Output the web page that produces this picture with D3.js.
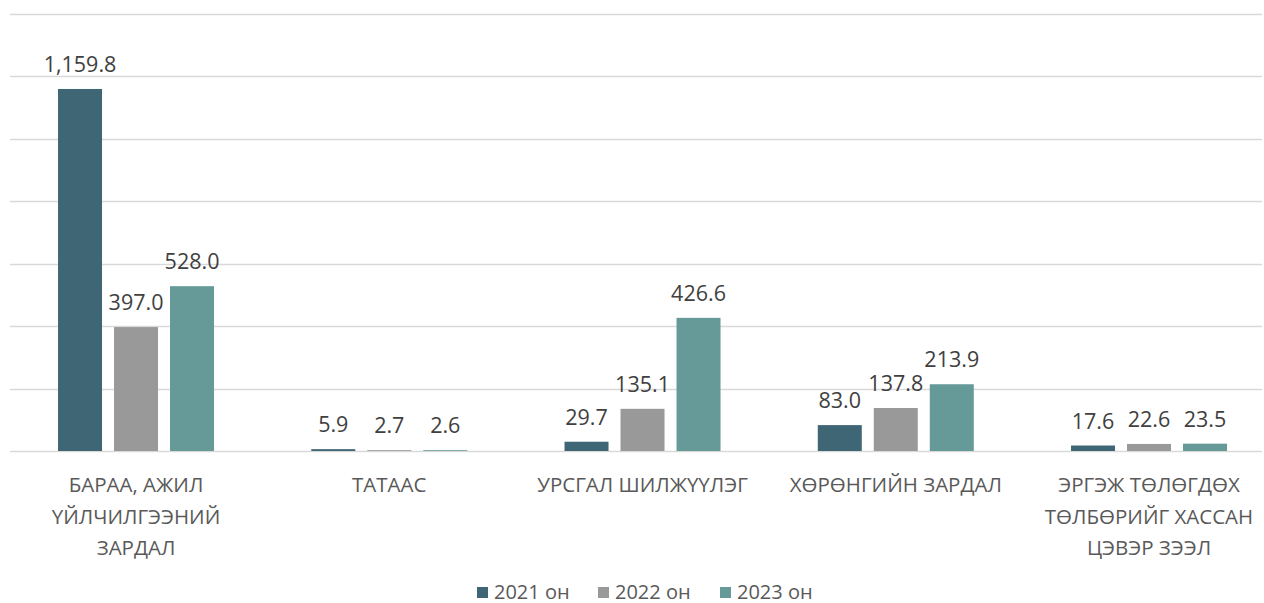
<!DOCTYPE html>
<html>
<head>
<meta charset="utf-8">
<script src="https://cdn.jsdelivr.net/npm/d3@7"></script>
<style>
  body { margin: 0; background: #fff; }
  svg text { font-family: "Open Sans", "Noto Sans", sans-serif; }
</style>
</head>
<body>
<div id="chart"></div>
<script>
var categories = [
  ['БАРАА, АЖИЛ', 'ҮЙЛЧИЛГЭЭНИЙ', 'ЗАРДАЛ'],
  ['ТАТААС'],
  ['УРСГАЛ ШИЛЖҮҮЛЭГ'],
  ['ХӨРӨНГИЙН ЗАРДАЛ'],
  ['ЭРГЭЖ ТӨЛӨГДӨХ', 'ТӨЛБӨРИЙГ ХАССАН', 'ЦЭВЭР ЗЭЭЛ']
];
var seriesNames = ['2021 он', '2022 он', '2023 он'];
var values2021 = [1159.8, 5.9, 29.7, 83.0, 17.6];
var values2022 = [397.0, 2.7, 135.1, 137.8, 22.6];
var values2023 = [528.0, 2.6, 426.6, 213.9, 23.5];
var colors = ['#3f6674', '#999999', '#659a99'];
var yTicks = [0, 200, 400, 600, 800, 1000, 1200, 1400];

var W = 1264, H = 603,
    GRID_LEFT = 10, GRID_RIGHT = 1262,
    BAND_LEFT = 9.4, BAND_STEP = 253.25,
    PLOT_TOP = 14, PLOT_BOTTOM = 451,
    BAR_W = 44, BAR_STEP = 56;

var series = [values2021, values2022, values2023];

var svg = d3.select('#chart').append('svg')
  .attr('width', W).attr('height', H);

var x = d3.scaleBand()
  .domain(d3.range(categories.length))
  .range([BAND_LEFT, BAND_LEFT + BAND_STEP * categories.length]);

var y = d3.scaleLinear().domain([0, 1400]).range([PLOT_BOTTOM, PLOT_TOP]);

// gridlines
svg.selectAll('line.grid')
  .data(yTicks)
  .enter().append('line')
  .attr('class', 'grid')
  .attr('x1', GRID_LEFT).attr('x2', GRID_RIGHT)
  .attr('y1', function(d) { return Math.round(y(d)) + 0.5; })
  .attr('y2', function(d) { return Math.round(y(d)) + 0.5; })
  .attr('stroke', '#d9d9d9')
  .attr('stroke-width', 1.5);

// bars + value labels
series.forEach(function(vals, s) {
  var g = svg.append('g');
  var cx = function(i) { return x(i) + x.bandwidth() / 2 + (s - 1) * BAR_STEP; };
  g.selectAll('rect')
    .data(vals)
    .enter().append('rect')
    .attr('x', function(d, i) { return cx(i) - BAR_W / 2; })
    .attr('y', function(d) { return y(d); })
    .attr('width', BAR_W)
    .attr('height', function(d) { return PLOT_BOTTOM - y(d); })
    .attr('fill', colors[s]);
  g.selectAll('text')
    .data(vals)
    .enter().append('text')
    .attr('x', function(d, i) { return cx(i); })
    .attr('y', function(d) { return y(d) - 17; })
    .attr('text-anchor', 'middle')
    .attr('font-size', 21.5)
    .attr('fill', '#404040')
    .text(function(d) { return d3.format(',.1f')(d); });
});

// category labels
var cat = svg.selectAll('text.cat')
  .data(categories)
  .enter().append('text')
  .attr('class', 'cat')
  .attr('text-anchor', 'middle')
  .attr('font-size', 20.5)
  .attr('fill', '#595959');
cat.each(function(lines, i) {
  var t = d3.select(this);
  lines.forEach(function(line, j) {
    t.append('tspan')
      .attr('x', x(i) + x.bandwidth() / 2)
      .attr('y', 492 + j * 31.7)
      .text(line);
  });
});

// legend
var legendX = [477, 598, 720];
var leg = svg.selectAll('g.legend')
  .data(seriesNames)
  .enter().append('g')
  .attr('class', 'legend')
  .attr('transform', function(d, i) { return 'translate(' + legendX[i] + ',0)'; });
leg.append('rect')
  .attr('x', 0).attr('y', 587)
  .attr('width', 11).attr('height', 11)
  .attr('fill', function(d, i) { return colors[i]; });
leg.append('text')
  .attr('x', 17).attr('y', 598.5)
  .attr('font-size', 20)
  .attr('fill', '#595959')
  .text(function(d) { return d; });
</script>
</body>
</html>
